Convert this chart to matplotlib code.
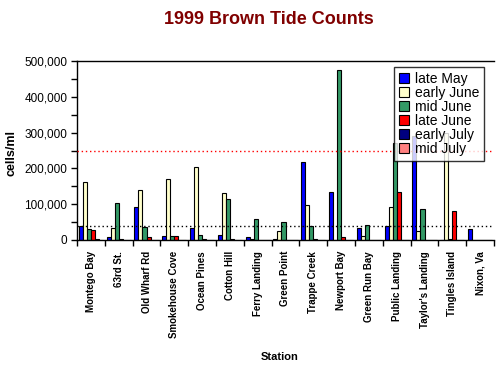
import numpy as np
import matplotlib.pyplot as plt
from matplotlib.patches import Patch

plt.rcParams['font.family'] = ['Liberation Sans', 'DejaVu Sans']

# Data (cells/ml)
stations = ['Montego Bay', '63rd St.', 'Old Wharf Rd', 'Smokehouse Cove', 'Ocean Pines',
            'Cotton Hill', 'Ferry Landing', 'Green Point', 'Trappe Creek', 'Newport Bay',
            'Green Run Bay', 'Public Landing', "Taylor's Landing", 'Tingles Island', 'Nixon, Va']
late_may = [40000, 8400, 93000, 11000, 33000, 14000, 8400, 2000, 218000, 135000,
            34000, 40000, 290000, 0, 32000]
early_june = [162000, 33000, 140000, 171000, 205000, 131000, 2000, 25000, 99000, 0,
              12000, 93000, 26000, 300000, 0]
mid_june = [31000, 103000, 36000, 11000, 14000, 115000, 59000, 50000, 39000, 476000,
            42000, 272000, 87000, 3000, 0]
late_june = [28000, 3000, 8000, 11000, 3000, 3000, 0, 0, 2000, 8000,
             0, 135000, 0, 82000, 0]
early_july = [3000, 0, 0, 0, 0, 0, 0, 0, 0, 0, 0, 0, 0, 0, 0]
mid_july = [0, 0, 0, 0, 0, 0, 0, 0, 0, 0, 0, 0, 0, 0, 0]

series = [late_may, early_june, mid_june, late_june, early_july, mid_july]
labels = ['late May', 'early June', 'mid June', 'late June', 'early July', 'mid July']
colors = ['#0000FF', '#FFFFCC', '#339966', '#FF0000', '#000080', '#FF8080']

fig = plt.figure(figsize=(5.01, 3.65), dpi=100)
ax = fig.add_axes([77 / 501, 1 - 240 / 365, 417 / 501, 179 / 365])

x = np.arange(len(stations)) + 0.5
w = 0.144
for i, (vals, col) in enumerate(zip(series, colors)):
    ax.bar(x + (i - 2.5) * w, vals, width=w, color=col, edgecolor='black',
           linewidth=0.8, zorder=2)

# threshold lines
ax.axhline(250000, color='#FF0000', linestyle=(0, (1, 2)), linewidth=1, zorder=10)
ax.axhline(40000, color='black', linestyle=(0, (1, 2)), linewidth=1, zorder=10)

ax.set_xlim(0, len(stations))
ax.set_ylim(0, 500000)
ax.set_yticks(np.arange(0, 500001, 100000))
ax.set_yticks(np.arange(0, 500001, 50000), minor=True)
ax.set_yticklabels(['0', '100,000', '200,000', '300,000', '400,000', '500,000'], fontsize=8.5)
ax.tick_params(axis='y', which='both', direction='out', length=4, width=1, pad=3)

ax.set_xticks(x)
ax.set_xticklabels(stations, rotation=90, fontsize=7, fontweight='bold', va='top')
ax.set_xticks(np.arange(0, len(stations) + 1), minor=True)
ax.tick_params(axis='x', which='major', length=0, pad=8)
ax.tick_params(axis='x', which='minor', direction='out', length=4, width=1)

ax.spines['right'].set_visible(False)
for s in ['left', 'bottom', 'top']:
    ax.spines[s].set_linewidth(1)

fig.text(269 / 501, 1 - 19 / 365, '1999 Brown Tide Counts', ha='center', va='center',
         fontsize=13, fontweight='bold', color='#800000')
fig.text(12 / 501, 1 - 153 / 365, 'cells/ml', rotation=90, ha='center', va='center',
         fontsize=9, fontweight='bold')
fig.text(280 / 501, 1 - 357 / 365, 'Station', ha='center', va='center',
         fontsize=8, fontweight='bold')

handles = [Patch(facecolor=c, edgecolor='black', linewidth=0.8) for c in colors]
leg = fig.legend(handles, labels, loc='upper left', bbox_to_anchor=(394 / 501, 1 - 67 / 365),
                 borderaxespad=0, fontsize=10, frameon=True, fancybox=False,
                 handlelength=0.7, handleheight=0.7, handletextpad=0.45,
                 labelspacing=0.0, borderpad=0.35)
leg.get_frame().set_edgecolor('black')
leg.get_frame().set_linewidth(1)
leg.set_zorder(5)

fig.savefig('out.png', dpi=100)
